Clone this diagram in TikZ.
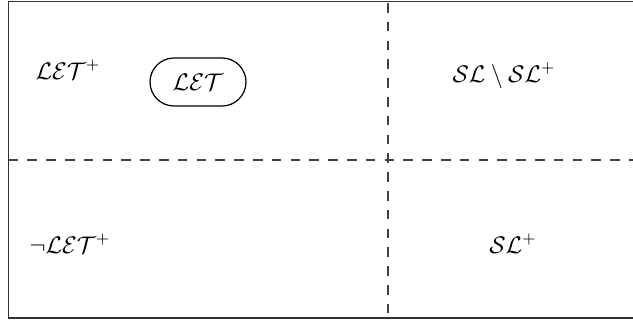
\documentclass[tikz,border=0pt]{standalone}
\usetikzlibrary{shapes.misc}
\begin{document}
\begin{tikzpicture}[x=0.5pt,y=-0.5pt,
  frame/.style={draw=black!80,line width=0.8pt},
  divider/.style={draw=black!75,line width=0.8pt,dash pattern=on 4.8pt off 4.6pt},
  lbl/.style={inner sep=0pt,font=\fontsize{12}{14}\selectfont},
  setbox/.style={rounded rectangle,draw=black,line width=0.6pt,minimum width=48pt,minimum height=24pt,inner sep=0pt,font=\fontsize{12}{14}\selectfont}]
  \useasboundingbox (0,0) rectangle (633,322);
  % outer frame, running past the right border
  \draw[frame] (645,1.5) -- (8.5,1.5) -- (8.5,318) -- (645,318);
  % quadrant dividers
  \coordinate (vtop) at (388,3);
  \coordinate (vbot) at (388,318);
  \coordinate (hleft) at (8.5,160);
  \coordinate (hright) at (633,160);
  \draw[divider] (vtop) -- (vbot);
  \draw[divider] (hleft) -- (hright);
  % region labels
  \node[lbl] (letp) at (68,70) {$\mathcal{LET}^+$};
  \node[setbox] (let) at (198,82) {$\mathcal{LET}$};
  \node[lbl] (slminus) at (504,76) {$\mathcal{SL}\setminus\mathcal{SL}^+$};
  \node[lbl] (nletp) at (70,244) {$\neg\mathcal{LET}^+$};
  \node[lbl] (slp) at (513,244) {$\mathcal{SL}^+$};
\end{tikzpicture}
\end{document}
